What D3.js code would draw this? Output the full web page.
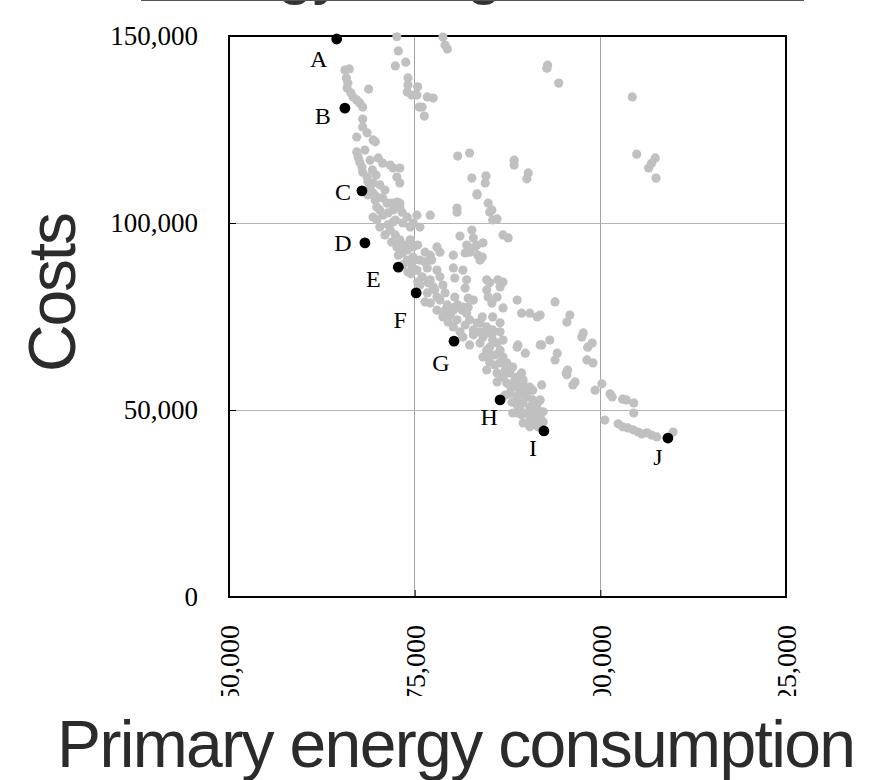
<!DOCTYPE html>
<html>
<head>
<meta charset="utf-8">
<script src="https://cdn.jsdelivr.net/npm/d3@7"></script>
<style>
  html, body { margin: 0; padding: 0; background: #fff; }
  svg { display: block; }
</style>
</head>
<body>
<svg id="chart" width="872" height="780"></svg>
<script>
// ---------------- DATA (values in thousands) ----------------
const xTicks = [50, 75, 100, 125];
const xTickLabels = ["50,000", "75,000", "100,000", "125,000"];
const yTicks = [0, 50, 100, 150];
const yTickLabels = ["0", "50,000", "100,000", "150,000"];

const titleText = "Energy usage vs. costs";
const xTitle = "Primary energy consumption";
const yTitle = "Costs";

// highlighted solutions A..J : [primary energy, costs]
const keyNames = ["A", "B", "C", "D", "E", "F", "G", "H", "I", "J"];
const keyEnergy = [64.5, 65.6, 67.9, 68.3, 72.8, 75.2, 80.3, 86.5, 92.4, 109.1];
const keyCosts  = [149.2, 130.7, 108.6, 94.7, 88.2, 81.3, 68.4, 52.7, 44.4, 42.5];

// all other solutions : [primary energy, costs]
const otherSolutions = [
  [72.6,149.8],[72.8,146.0],[72.4,142.0],[73.8,143.0],[65.6,140.9],[66.2,141.2],[65.8,138.8],[66.0,137.4],
  [65.9,136.1],[66.4,134.8],[66.7,133.7],[67.2,132.9],[67.6,132.1],[68.0,131.0],[68.8,135.8],[74.1,138.8],
  [74.1,136.9],[74.0,135.0],[74.6,134.2],[75.6,131.0],[75.4,136.4],[75.3,134.2],[76.7,133.7],[77.5,133.4],
  [76.0,131.0],[76.3,128.6],[68.0,127.8],[68.0,125.7],[68.6,124.1],[67.2,123.0],[69.4,122.2],[69.7,121.7],
  [78.8,149.7],[79.1,147.6],[79.4,146.5],
  [67.2,119.0],[67.4,117.6],[67.6,116.3],[67.9,115.0],[68.0,113.6],[68.6,112.3],[68.7,111.0],[69.0,109.6],
  [69.4,108.0],[69.7,106.1],[69.9,104.3],[69.4,101.6],[69.9,100.8],[70.3,98.9],[70.1,117.4],[70.7,116.0],
  [71.7,115.5],[72.1,114.7],[73.0,114.7],[72.6,112.3],[73.0,110.7],[71.3,105.3],[72.1,103.5],[73.0,105.3],
  [73.3,102.9],[74.0,101.6],[74.8,100.0],[72.1,100.3],[69.4,110.7],[80.8,117.9],[82.4,118.7],[88.4,116.8],
  [88.4,115.5],[82.7,112.0],[84.6,112.6],[84.5,110.7],[90.3,113.4],[90.1,111.8],[83.4,107.8],[84.9,105.3],
  [80.7,104.0],[92.8,141.4],[92.9,142.2],[94.4,137.4],[104.3,133.7],[104.9,118.4],[107.4,117.4],[106.9,116.0],
  [106.5,114.7],[107.5,112.0],
  [69.9,107.0],[70.7,106.7],[71.9,105.3],[72.6,105.6],[73.0,104.3],[75.3,102.1],[77.1,102.1],[75.7,98.9],
  [74.4,98.9],[73.4,100.0],[72.4,100.8],[71.4,102.7],[70.3,103.5],[71.7,98.1],[72.4,96.8],[71.9,94.9],
  [72.6,93.6],[73.3,92.0],[74.0,92.8],[74.8,93.6],[75.4,94.1],[76.4,92.2],[77.1,91.4],[78.0,93.6],
  [78.4,92.2],[77.3,90.1],[75.7,90.1],[74.8,90.9],[74.0,90.1],[75.3,87.4],[76.7,88.0],[78.0,87.4],
  [76.0,85.6],[77.1,84.8],[78.4,85.6],[78.8,83.4],[77.5,82.9],[76.7,81.3],[78.0,80.2],[79.1,81.3],
  [76.4,78.9],[80.4,80.2],[80.8,78.1],[80.2,76.7],[81.4,76.7],[82.2,77.5],[82.9,79.4],[82.0,75.9],
  [82.4,74.1],[83.4,73.3],[84.1,74.9],[84.7,72.2],[82.9,71.4],[84.2,69.5],[84.9,70.6],[85.5,68.7],
  [86.1,67.9],[86.9,68.7],[85.1,66.8],[86.5,66.0],[85.8,64.7],[86.9,64.2],[87.4,62.6],[88.2,61.5],
  [87.8,59.9],[88.8,58.8],[88.9,57.2],[89.6,58.0],[90.5,56.1],[90.9,55.3],[90.1,54.5],[88.8,53.5],
  [89.6,51.9],[90.5,50.8],[90.9,49.2],[91.5,50.0],[91.9,48.1],[88.8,49.2],[89.6,46.5],[90.5,45.5],
  [75.4,84.2],[77.1,78.6],[78.0,76.7],[78.8,74.9],[79.5,73.5],[80.2,72.2],[81.1,70.9],[81.5,69.5],
  [74.5,86.4],
  [80.7,102.9],[83.4,107.5],[85.1,102.9],[85.5,100.8],[86.9,96.8],[87.6,96.0],[82.7,98.1],[82.9,96.0],
  [82.0,94.1],[83.4,94.1],[84.2,94.7],[82.4,92.2],[83.8,90.1],[84.1,90.9],[85.1,84.0],[84.7,82.1],
  [86.1,80.2],[86.5,82.9],[86.2,84.8],[88.8,79.4],[89.4,75.9],[90.5,75.9],[91.5,74.9],[93.9,78.9],
  [91.9,67.4],[93.2,68.7],[94.2,65.2],[93.9,63.4],[88.8,66.8],[89.9,65.2],[92.1,56.7],[91.9,52.7],
  [86.1,101.1],[85.4,103.5],[81.1,96.5],[83.1,93.6],[81.8,92.0],[83.5,91.4],[80.2,91.4],[80.2,88.0],
  [81.5,87.4],[82.0,84.8],[80.4,85.3],[84.7,84.8],[86.9,84.2],[81.8,82.6],[82.2,79.9],[84.9,80.2],
  [85.4,78.6],[86.9,77.3],[81.5,77.5],[80.4,77.5],[95.9,75.4],[95.5,73.5],[97.7,70.6],[97.5,69.5],
  [85.5,74.9],[86.5,73.3],[85.5,71.4],[83.8,73.3],
  [98.9,67.9],[98.3,66.8],[92.1,67.4],[95.6,60.7],[95.4,59.9],[96.6,57.5],[96.3,56.7],[98.2,63.4],
  [99.0,62.6],[99.3,55.3],[100.2,57.0],[101.3,54.3],[101.6,53.5],[103.0,52.9],[103.5,52.7],[104.5,51.9],
  [104.5,49.2],[100.6,47.3],[102.4,46.3],[103.0,45.5],[103.7,45.2],[104.4,44.7],[105.1,44.1],[105.6,43.6],
  [106.3,43.9],[106.9,43.3],[107.6,42.8],[109.8,44.1],[92.3,49.5],[92.3,46.8],[91.9,75.4],
  [82.9,70.1],[83.8,70.9],[85.5,70.6],[86.5,70.9],[82.4,67.4],[83.8,67.9],[84.7,66.0],[84.2,64.2],
  [85.1,62.8],[86.5,62.6],[87.4,61.5],[84.7,60.7],[86.1,59.9],[86.9,58.8],[87.8,60.2],[89.4,59.9],
  [86.1,57.5],[87.4,57.2],[88.2,56.1],[89.2,57.2],[90.1,56.1],[87.8,54.5],[88.9,54.0],[90.1,53.5],
  [90.9,52.7],[88.8,51.3],[90.8,51.3],[91.6,50.0],[88.2,49.2],[89.4,48.7],[90.5,48.1],[91.5,46.8],
  [88.9,67.4],[95.5,59.4],[91.6,52.1],
  [68.3,119.5],[69.0,116.8],[69.3,114.2],[69.8,112.8],[70.3,110.2],[71.0,108.8],[68.7,107.5],[70.7,102.1],
  [71.4,99.5],[71.0,96.8],[73.0,95.5],[73.7,94.1],[74.4,95.5],[72.8,91.4],[73.4,88.8],[74.6,88.8],
  [74.1,86.9],[75.0,90.1],[76.4,89.6],[75.7,83.4],[76.8,84.0],[77.7,82.1],[78.4,79.4],[79.4,78.1],
  [79.8,75.4],[80.7,74.1],[81.8,72.7],[79.1,76.7],[85.1,64.7],[85.8,62.0],[87.2,60.7],[88.5,58.0],
  [87.8,56.7],[89.2,55.3],[89.9,54.0],[87.2,54.0],[88.1,52.1],[89.2,50.0],[90.1,49.2],[91.2,47.9],
  [90.5,46.8],[91.6,45.5]
];

// ---------------- LAYOUT ----------------
const W = 872, H = 780;
const plot = { left: 229, right: 786, top: 36, bottom: 597 };
// label offsets for the highlighted points (px, relative to the dot)
const labelOffset = {
  A: [-18, 20], B: [-22, 7], C: [-19, 1], D: [-22, 0], E: [-25, 11],
  F: [-16, 27], G: [-13, 21], H: [-11, 17], I: [-11, 17], J: [-10, 19]
};

const svg = d3.select("#chart");

const x = d3.scaleLinear().domain([50, 125]).range([plot.left, plot.right]);
const y = d3.scaleLinear().domain([0, 150]).range([plot.bottom, plot.top]);

// title (only its lower edge is visible) and underline
svg.append("text")
  .attr("x", 141).attr("y", -9)
  .attr("font-family", "'Liberation Sans', Arial, sans-serif")
  .attr("font-size", 66)
  .attr("fill", "#333")
  .attr("textLength", 663)
  .attr("lengthAdjust", "spacing")
  .text(titleText);
svg.append("line")
  .attr("x1", 141).attr("x2", 804).attr("y1", 0).attr("y2", 0)
  .attr("stroke", "#555").attr("stroke-width", 2);

// grid lines
const grid = svg.append("g");
grid.selectAll("line.gx").data(xTicks.slice(1, -1)).join("line")
  .attr("x1", d => x(d)).attr("x2", d => x(d))
  .attr("y1", plot.top).attr("y2", plot.bottom)
  .attr("stroke", "#a3a3a3").attr("stroke-width", 1).attr("shape-rendering", "crispEdges");
grid.selectAll("line.gy").data(yTicks.slice(1, -1)).join("line")
  .attr("x1", plot.left).attr("x2", plot.right)
  .attr("y1", d => y(d)).attr("y2", d => y(d))
  .attr("stroke", "#b5b5b5").attr("stroke-width", 1).attr("shape-rendering", "crispEdges");

// axes
const yAxis = d3.axisLeft(y)
  .tickValues(yTicks)
  .tickSize(-7)
  .tickPadding(31)
  .tickFormat((d, i) => yTickLabels[i]);
const gy = svg.append("g").attr("transform", `translate(${plot.left},0)`).call(yAxis);
gy.select(".domain").remove();
gy.selectAll("line").attr("stroke", "#000");
gy.selectAll("text")
  .attr("font-family", "'Liberation Serif', 'Times New Roman', serif")
  .attr("font-size", 27).attr("fill", "#000");

svg.append("clipPath").attr("id", "xlabclip")
  .append("rect").attr("x", 0).attr("y", 0).attr("width", W).attr("height", 696);
const gxWrap = svg.append("g").attr("clip-path", "url(#xlabclip)");
const xAxis = d3.axisBottom(x)
  .tickValues(xTicks)
  .tickSize(-7)
  .tickFormat((d, i) => xTickLabels[i]);
const gx = gxWrap.append("g").attr("transform", `translate(0,${plot.bottom})`).call(xAxis);
gx.select(".domain").remove();
gx.selectAll("line").attr("stroke", "#000");
gx.selectAll("text")
  .attr("transform", "rotate(-90)")
  .attr("x", -28).attr("y", 0).attr("dy", "0.35em")
  .attr("text-anchor", "end")
  .attr("font-family", "'Liberation Serif', 'Times New Roman', serif")
  .attr("font-size", 28).attr("fill", "#000");

// frame
svg.append("rect")
  .attr("x", plot.left).attr("y", plot.top)
  .attr("width", plot.right - plot.left).attr("height", plot.bottom - plot.top)
  .attr("fill", "none").attr("stroke", "#000").attr("stroke-width", 2);

// other solutions
svg.append("g").selectAll("circle").data(otherSolutions).join("circle")
  .attr("cx", d => x(d[0])).attr("cy", d => y(d[1]))
  .attr("r", 4.6).attr("fill", "#c0c0c0");

// highlighted solutions
const keyData = keyNames.map((n, i) => ({ name: n, e: keyEnergy[i], c: keyCosts[i] }));
svg.append("g").selectAll("circle").data(keyData).join("circle")
  .attr("cx", d => x(d.e)).attr("cy", d => y(d.c))
  .attr("r", 5.4).attr("fill", "#000");
svg.append("g").selectAll("text").data(keyData).join("text")
  .attr("x", d => x(d.e) + labelOffset[d.name][0])
  .attr("y", d => y(d.c) + labelOffset[d.name][1])
  .attr("dy", "0.35em")
  .attr("text-anchor", "middle")
  .attr("font-family", "'Liberation Serif', 'Times New Roman', serif")
  .attr("font-size", 24).attr("fill", "#000")
  .text(d => d.name);

// axis titles
svg.append("text")
  .attr("transform", "translate(75,292) rotate(-90)")
  .attr("text-anchor", "middle")
  .attr("font-family", "'Liberation Sans', Arial, sans-serif")
  .attr("font-size", 66).attr("fill", "#2b2b2b")
  .attr("textLength", 160).attr("lengthAdjust", "spacing")
  .text(yTitle);
svg.append("text")
  .attr("x", 57).attr("y", 767)
  .attr("font-family", "'Liberation Sans', Arial, sans-serif")
  .attr("font-size", 66).attr("fill", "#2b2b2b")
  .attr("textLength", 799).attr("lengthAdjust", "spacing")
  .text(xTitle);
</script>
</body>
</html>
